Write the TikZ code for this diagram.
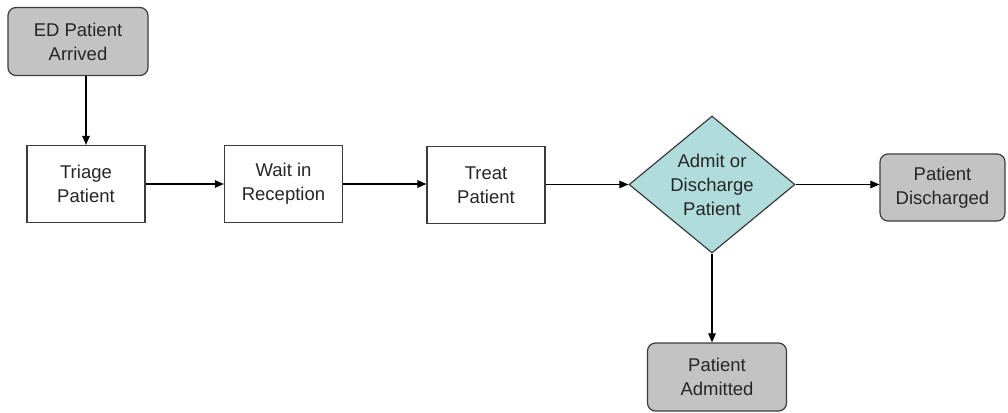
\documentclass[tikz,border=0pt]{standalone}
\usepackage{fontspec}
\setmainfont{Liberation Sans}
\usetikzlibrary{shapes.geometric,arrows.meta}
\definecolor{boxgray}{HTML}{C3C3C3}
\definecolor{diateal}{HTML}{B0DCDC}
\definecolor{edgegray}{HTML}{3C3C3C}
\begin{document}
\begin{tikzpicture}[x=1pt,y=-1pt,
  every node/.style={font=\fontsize{18.5}{24}\selectfont, align=center, inner sep=0pt, text=black!85},
  proc/.style={draw=edgegray, line width=1.2pt, fill=white, rectangle, minimum width=118pt, minimum height=77pt},
  term/.style={draw=edgegray, line width=1.2pt, fill=boxgray, rectangle, rounded corners=8pt},
  dec/.style={draw=edgegray, line width=1.2pt, fill=diateal, diamond, minimum width=166pt, minimum height=137pt},
  flow/.style={draw=black, line width=1.1pt, -{Triangle[length=9pt,width=7.5pt]}}]
\useasboundingbox (0,0) rectangle (1008,412);
\node[term, minimum width=140pt, minimum height=68pt] (ed) at (78,41.5) {ED Patient\\Arrived};
\node[proc] (triage) at (86,184) {Triage\\Patient};
\node[proc] (wait) at (283.5,184) {Wait in\\Reception};
\node[proc] (treat) at (486,185) {Treat\\Patient};
\node[dec] (dec) at (712,184.5) {};
\node (dectext) at (712,184.5) {Admit or\\Discharge\\Patient};
\node[term, minimum width=125pt, minimum height=67pt] (dis) at (942.5,187.5) {Patient\\Discharged};
\node[term, minimum width=139pt, minimum height=68pt] (adm) at (717,377) {Patient\\Admitted};
\draw[flow] (ed.south -| triage.north) -- (triage.north);
\draw[flow] (triage.east) -- (wait.west);
\draw[flow] (wait.east) -- (wait.east -| treat.west);
\draw[flow] (treat.east |- dec.west) -- (dec.west);
\draw[flow] (dec.east) -- (dec.east -| dis.west);
\draw[flow] (dec.south) -- (dec.south |- adm.north);
\end{tikzpicture}
\end{document}
